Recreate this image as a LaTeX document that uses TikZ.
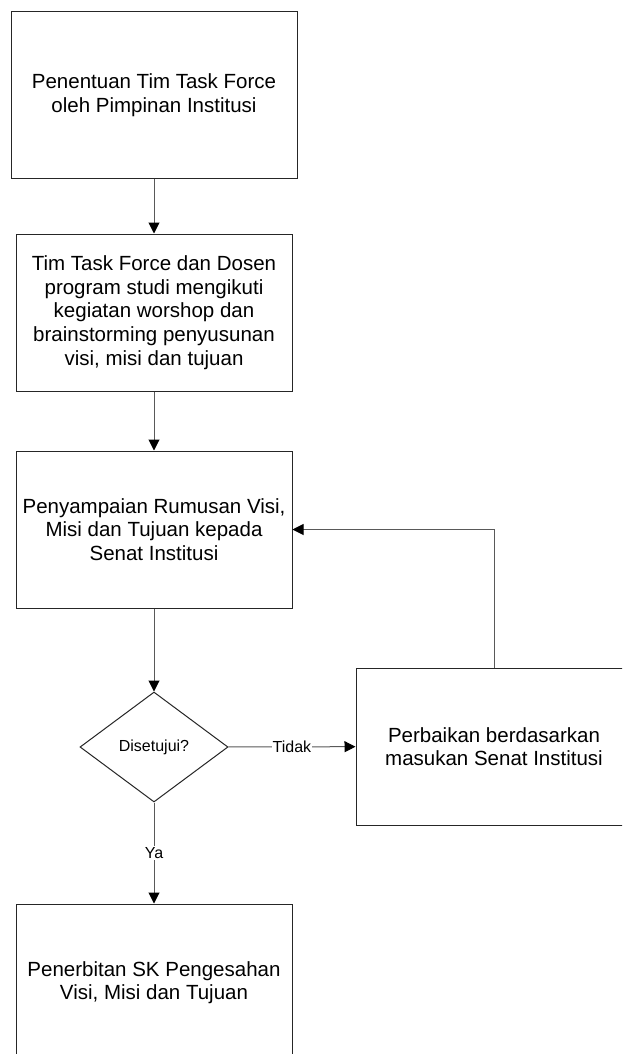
\documentclass[tikz,border=0pt]{standalone}
\usepackage{fontspec}
\setmainfont{Liberation Sans}
\usetikzlibrary{shapes.geometric,arrows.meta}
\begin{document}
\begin{tikzpicture}[x=1pt,y=-1pt,
  procbox/.style={draw=black!85, line width=1pt, rectangle, inner sep=0pt,
    minimum width=276pt, minimum height=157pt, align=center,
    font=\fontsize{20.5}{23.6}\selectfont, text=black},
  decbox/.style={draw=black!85, line width=1pt, diamond, inner sep=0pt,
    minimum width=148pt, minimum height=110pt, aspect=1.345,
    font=\fontsize{16}{19}\selectfont, text=black},
  conn/.style={draw=black!65, line width=1pt, -{Triangle[length=11pt,width=11pt,fill=black,color=black]}},
  lbl/.style={fill=white, inner sep=1pt, font=\fontsize{16}{19}\selectfont, text=black}
]
\useasboundingbox (0,0) rectangle (622,1054);
\clip (0,0) rectangle (622,1054);
\fill[white] (0,0) rectangle (622,1054);

\node[procbox, minimum width=286pt, minimum height=166pt] (b1) at (154,95)
  {Penentuan Tim Task Force\\oleh Pimpinan Institusi};
\node[procbox] (b2) at (154,312.5)
  {Tim Task Force dan Dosen\\program studi mengikuti\\kegiatan worshop dan\\brainstorming penyusunan\\visi, misi dan tujuan};
\node[procbox] (b3) at (154,529.5)
  {Penyampaian Rumusan Visi,\\Misi dan Tujuan kepada\\Senat Institusi};
\node[decbox] (d) at (154,747) {Disetujui?};
\node[procbox] (b4) at (494,746.5)
  {Perbaikan berdasarkan\\masukan Senat Institusi};
\node[procbox] (b5) at (154,982.5)
  {Penerbitan SK Pengesahan\\Visi, Misi dan Tujuan};

\draw[conn] (b1) -- (b2);
\draw[conn] (b2) -- (b3);
\draw[conn] (b3) -- (d);
\draw[conn] (d) -- node[lbl] {Tidak} (b4);
\draw[conn] (d) -- node[lbl] {Ya} (b5);
\draw[conn] (b4.north) |- (b3.east);
\end{tikzpicture}
\end{document}
